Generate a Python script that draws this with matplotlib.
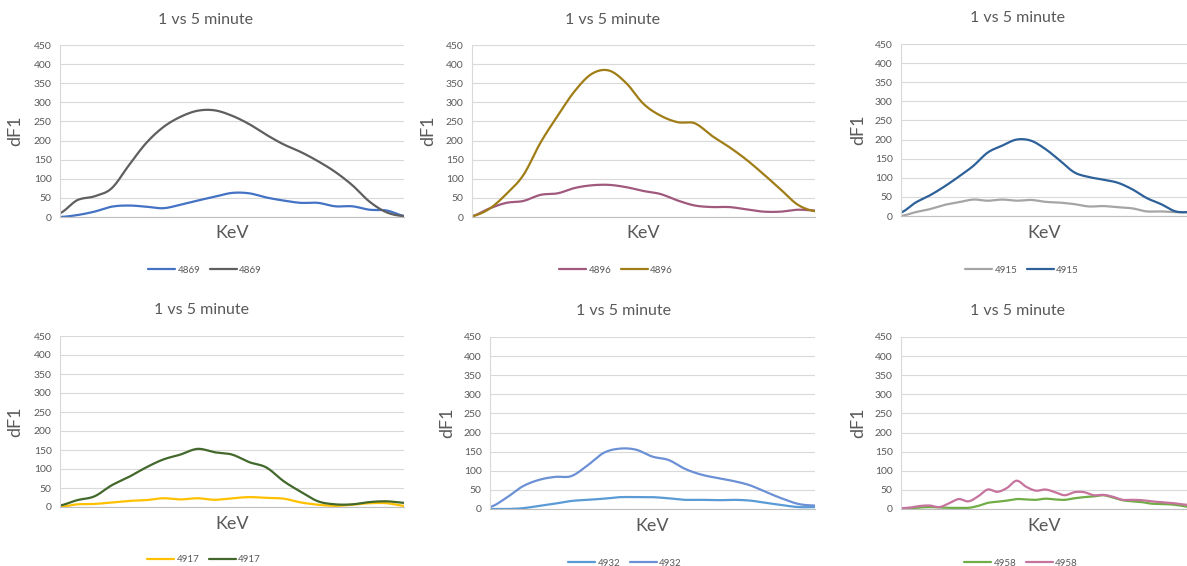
import numpy as np
import matplotlib
matplotlib.use("Agg")
import matplotlib.pyplot as plt

plt.rcParams['font.family'] = ['Lato', 'DejaVu Sans']

W, H = 1187, 566

# values, evenly spaced along the KeV axis
labels = ["4869", "4896", "4915", "4917", "4932", "4958"]

low_4869 = [0, 5, 14, 27, 30, 27, 23, 32, 43, 53, 63, 62, 51, 43, 37, 37, 28, 28, 19, 17, 3]
high_4869 = [10, 44, 54, 75, 135, 193, 235, 262, 278, 279, 265, 243, 215, 190, 170, 146, 118, 83, 40, 12, 2]

low_4896 = [2, 22, 37, 42, 58, 62, 76, 83, 84, 78, 68, 60, 43, 30, 26, 26, 20, 14, 14, 19, 17]
high_4896 = [2, 21, 60, 110, 195, 265, 330, 375, 383, 350, 296, 265, 248, 245, 212, 183, 150, 112, 72, 32, 15]

low_4915 = [0, 10, 18, 29, 36, 43, 40, 43, 40, 42, 37, 35, 31, 25, 26, 23, 20, 12, 12, 10, 10]
high_4915 = [9, 35, 54, 77, 103, 131, 166, 184, 200, 197, 175, 145, 114, 102, 95, 87, 70, 47, 31, 12, 10]

low_4917 = [0, 7, 8, 12, 16, 18, 23, 20, 23, 19, 23, 26, 24, 22, 12, 6, 3, 6, 10, 10, 3]
high_4917 = [4, 18, 28, 57, 79, 104, 125, 138, 153, 144, 138, 118, 104, 68, 40, 15, 7, 7, 13, 15, 11]

low_4932 = [0, 0, 2, 8, 14, 21, 24, 27, 31, 31, 31, 28, 24, 24, 23, 24, 22, 16, 10, 5, 5]
high_4932 = [5, 29, 59, 76, 84, 86, 114, 147, 158, 155, 137, 128, 105, 90, 81, 73, 62, 44, 27, 13, 9]

low_4958 = [0, 2, 4, 5, 4, 3, 3, 3, 8, 16, 19, 22, 26, 25, 24, 27, 25, 24, 28, 31, 33, 36, 30,
            23, 20, 18, 14, 13, 12, 9, 5]
high_4958 = [2, 4, 8, 9, 5, 15, 26, 20, 33, 51, 45, 55, 74, 58, 48, 51, 44, 36, 44, 44, 36, 37, 32,
             24, 24, 23, 20, 18, 16, 13, 10]

series = [(low_4869, high_4869), (low_4896, high_4896), (low_4915, high_4915),
          (low_4917, high_4917), (low_4932, high_4932), (low_4958, high_4958)]

colors = [("#4472C4", "#5F5F5F"), ("#A0597D", "#A07D16"), ("#A5A5A5", "#2E6199"),
          ("#FFC000", "#43682B"), ("#5B9BD5", "#6C90D6"), ("#70AD47", "#C6739E")]

# plot boxes in pixels: left, right, top(450), bottom(0)
boxes = [(60, 404, 45, 217), (472, 815, 45, 217), (901, 1190, 44, 216),
         (60, 404, 336, 507), (490, 815, 337, 509), (901, 1190, 337, 509)]
title_xy = [(205, 20), (613, 20), (1018, 18), (202, 310), (623, 311), (1018, 311)]
ylab_x = [15, 428, 858, 15, 447, 858]
xlab_y = [233, 233, 233, 524, 526, 526]
leg_xy = [(205, 270), (616, 270), (1022, 270), (204, 560), (625, 563), (1021, 563)]

grey = "#595959"


def smooth(y, k=12):
    # catmull-rom curve through the points, like Excel's smoothed line
    y = np.asarray(y, float)
    p = np.concatenate([[y[0]], y, [y[-1]]])
    t = np.linspace(0, 1, k, endpoint=False)
    xs, ys = [], []
    for i in range(len(y) - 1):
        p0, p1, p2, p3 = p[i], p[i + 1], p[i + 2], p[i + 3]
        ys.append(0.5 * (2 * p1 + (-p0 + p2) * t + (2 * p0 - 5 * p1 + 4 * p2 - p3) * t ** 2
                         + (-p0 + 3 * p1 - 3 * p2 + p3) * t ** 3))
        xs.append(i + t)
    xs.append([len(y) - 1])
    ys.append([y[-1]])
    return np.concatenate(xs), np.concatenate(ys)


fig = plt.figure(figsize=(W / 100, H / 100), dpi=100)

for i in range(6):
    l, r, t, b = boxes[i]
    ax = fig.add_axes([l / W, 1 - b / H, (r - l) / W, (b - t) / H])
    lo, hi = series[i]
    n = len(lo)
    for vals, c in zip((lo, hi), colors[i]):
        xs, ys = smooth(vals)
        ax.plot(xs, ys, color=c, lw=1.6, label=labels[i], solid_capstyle='round')
    ax.set_xlim(0, n - 1)
    ax.set_ylim(0, 450)
    ax.set_yticks(np.arange(0, 451, 50))
    ax.set_xticks([])
    ax.grid(axis='y', color='#D9D9D9', lw=0.8)
    ax.set_axisbelow(True)
    for s in ('top', 'right'):
        ax.spines[s].set_visible(False)
    ax.spines['left'].set_color('#D9D9D9')
    ax.spines['bottom'].set_color('#BFBFBF')
    ax.tick_params(axis='y', length=0, labelsize=7.5, colors=grey, pad=6)

    fig.text(title_xy[i][0] / W, 1 - title_xy[i][1] / H, "1 vs 5 minute", ha='center', va='center',
             fontsize=11.5, color=grey)
    fig.text(ylab_x[i] / W, 1 - ((t + b) / 2) / H, "dF1", rotation=90, ha='center', va='center',
             fontsize=13, color=grey)
    fig.text(((l + min(r, W)) / 2) / W, 1 - xlab_y[i] / H, "KeV", ha='center', va='center',
             fontsize=13, color=grey)
    h, lb = ax.get_legend_handles_labels()
    fig.legend(h, lb, loc='center', bbox_to_anchor=(leg_xy[i][0] / W, 1 - leg_xy[i][1] / H),
               ncol=2, frameon=False, fontsize=7, labelcolor=grey, handlelength=2.8,
               handletextpad=0.2, columnspacing=1.0, borderpad=0)

fig.savefig("out.png", dpi=100)
